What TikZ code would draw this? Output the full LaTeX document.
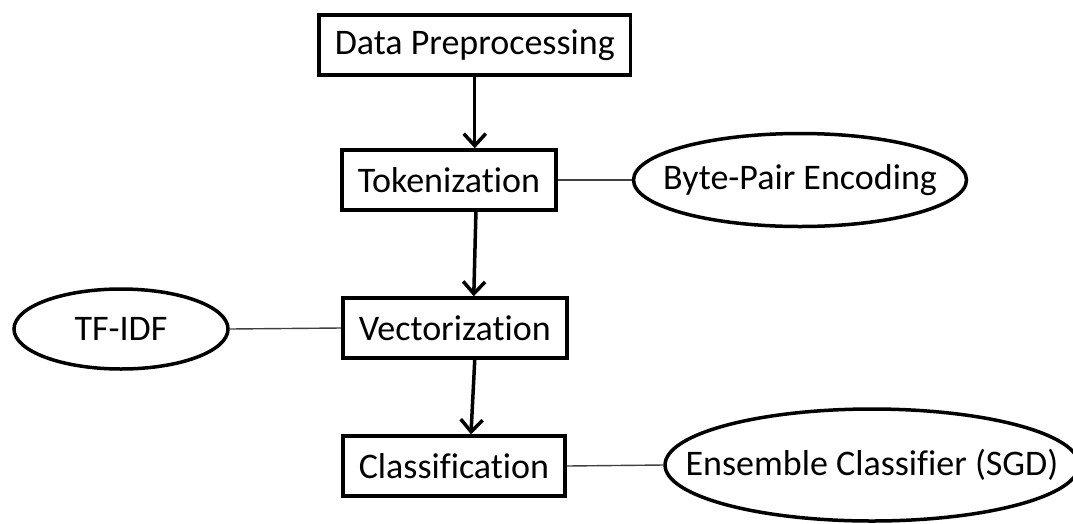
\documentclass[tikz,border=0pt]{standalone}
\usepackage{fontspec}
\setmainfont{Carlito}[Ligatures={NoCommon}]
\usepackage{tikz}
\usetikzlibrary{shapes.geometric, arrows.meta, positioning}
\definecolor{linkgray}{RGB}{64, 64, 64}

\begin{document}
\begin{tikzpicture}[x=1pt, y=-1pt,
  every node/.style={font=\fontsize{36}{42}\selectfont},
  stepbox/.style={rectangle, draw, line width=3.5pt, inner xsep=16pt, minimum height=60pt, anchor=west},
  method/.style={ellipse, draw, line width=3.5pt, inner xsep=-40pt, inner ysep=0pt},
  flow/.style={-{Straight Barb[length=12pt, width=22pt]}, line width=3.5pt},
  link/.style={linkgray, line width=1.4pt}]

\useasboundingbox (0,0) rectangle (1073,523);

% Pipeline steps
\node[stepbox] at (317,45) (prep) {Data Preprocessing};
\node[stepbox] at (340,180) (tok) {Tokenization};
\node[stepbox] at (341,328) (vec) {Vectorization};
\node[stepbox] at (341,466) (cls) {Classification};

% Methods used at each step
\node[method, minimum width=333pt, minimum height=93pt] at (800,180) (bpe) {Byte-Pair Encoding};
\node[method, minimum width=214pt, minimum height=80pt] at (121,329) (tfidf) {TF-IDF};
\node[method, minimum width=396pt, minimum height=112pt] at (872,465) (sgd) {Ensemble Classifier (SGD)};

% Flow between steps
\draw[flow] (prep.south) -- (prep.south |- tok.north);
\draw[flow] ([xshift=27pt]tok.south) -- ([xshift=19pt]vec.north);
\draw[flow] ([xshift=20pt]vec.south) -- ([xshift=17pt]cls.north);

% Links to methods
\draw[link] (tok.east) -- (bpe.west);
\draw[link] (tfidf.east) -- (vec.west);
\draw[link] (cls.east) -- (sgd.west);

\end{tikzpicture}
\end{document}
